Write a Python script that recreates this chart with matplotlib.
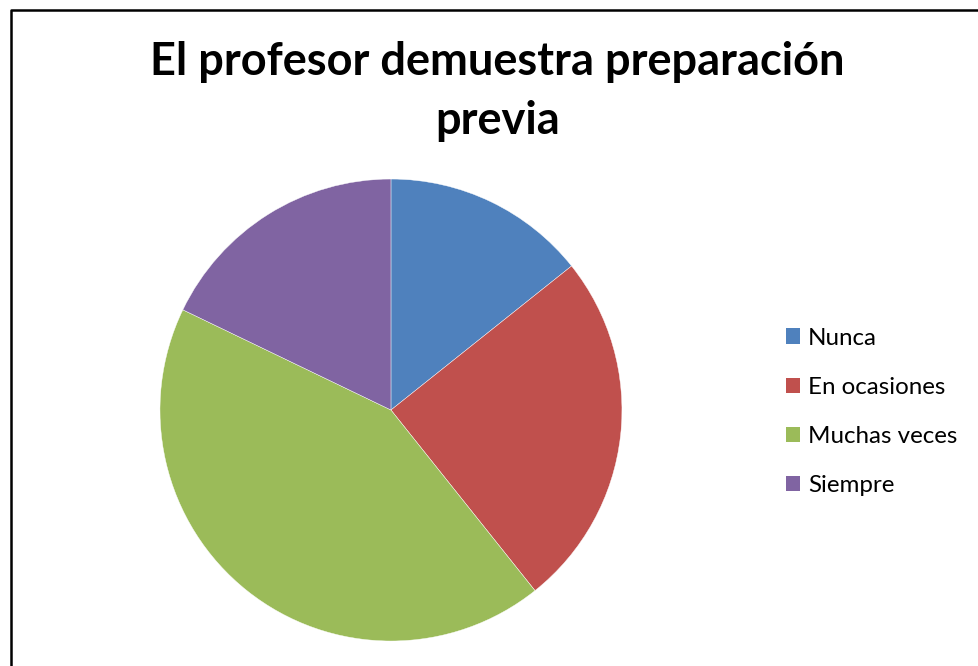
import matplotlib.pyplot as plt
from matplotlib.patches import Patch
from matplotlib.lines import Line2D

categorias = ['Nunca', 'En ocasiones', 'Muchas veces', 'Siempre']
respuestas = [4, 7, 12, 5]
colores = ['#4F81BD', '#C0504D', '#9BBB59', '#8064A2']

plt.rcParams['font.family'] = ['Lato', 'DejaVu Sans']

fig = plt.figure(figsize=(9.79, 6.66), dpi=100)
fig.patch.set_facecolor('white')

# pie area, square in pixels
ax = fig.add_axes([0.1634, 0.0375, 0.4719, 0.6937])
ax.pie(respuestas, colors=colores, startangle=90, counterclock=False,
       radius=1, wedgeprops=dict(edgecolor='white', linewidth=0.3))
ax.set_xlim(-1, 1)
ax.set_ylim(-1, 1)
ax.set_aspect('equal')
ax.axis('off')

fig.text(0.508, 0.938, 'El profesor demuestra preparación\nprevia',
         ha='center', va='top', fontsize=32.5, fontweight='bold',
         linespacing=1.5)

handles = [Patch(facecolor=c, edgecolor='none') for c in colores]
fig.legend(handles, categorias, loc='center left',
           bbox_to_anchor=(0.803, 0.382), frameon=False, fontsize=17.4,
           handlelength=0.58, handleheight=0.58, handletextpad=0.33,
           labelspacing=1.16, borderaxespad=0, borderpad=0)

# chart border (left and top edges)
fig.add_artist(Line2D([10.5 / 979, 10.5 / 979, 1.0], [0.0, 1 - 9.5 / 666, 1 - 9.5 / 666],
                      transform=fig.transFigure, color='black', linewidth=1.8))

fig.savefig('out.png', dpi=100)
